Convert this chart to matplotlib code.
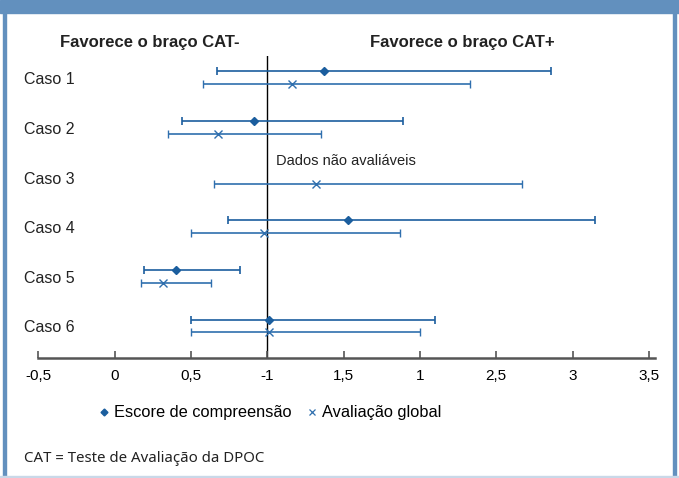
import numpy as np
import matplotlib.pyplot as plt
from matplotlib.patches import Rectangle
from matplotlib.lines import Line2D
from matplotlib.transforms import blended_transform_factory

# data
cases = ['Caso 1', 'Caso 2', 'Caso 3', 'Caso 4', 'Caso 5', 'Caso 6']
# Escore de compreensao (Caso 3 not evaluable)
score_mid = [1.37, 0.91, np.nan, 1.53, 0.40, 1.01]
score_lo = [0.67, 0.44, np.nan, 0.74, 0.19, 0.50]
score_hi = [2.86, 1.89, np.nan, 3.15, 0.82, 2.10]
# Avaliacao global
glob_mid = [1.16, 0.68, 1.32, 0.98, 0.32, 1.01]
glob_lo = [0.58, 0.35, 0.65, 0.50, 0.17, 0.50]
glob_hi = [2.33, 1.35, 2.67, 1.87, 0.63, 2.00]
tick_pos = [-0.5, 0, 0.5, 1, 1.5, 2, 2.5, 3, 3.5]
tick_labels = ['-0,5', '0', '0,5', '-1', '1,5', '1', '2,5', '3', '3,5']

BLUE = '#1b5e9e'
LBLUE = '#2f6fae'
FRAME = '#6290be'

plt.rcParams['font.family'] = ['Liberation Sans', 'DejaVu Sans']

fig = plt.figure(figsize=(6.79, 4.78), dpi=100)

# frame around the figure
fig.patches.append(Rectangle((0, 1 - 13 / 478), 1, 13 / 478, transform=fig.transFigure,
                             color=FRAME, zorder=0))
fig.patches.append(Rectangle((3 / 679, 0), 2.5 / 679, 1, transform=fig.transFigure,
                             color=FRAME, zorder=0))
fig.patches.append(Rectangle((673 / 679, 0), 2.5 / 679, 1, transform=fig.transFigure,
                             color=FRAME, zorder=0))
fig.patches.append(Rectangle((0, 0), 1, 2 / 478, transform=fig.transFigure,
                             color='#c9d8e8', zorder=0))

ax = fig.add_axes([38.3 / 679, 1 - 358 / 478, (655 - 38.3) / 679, (358 - 56) / 478])

y = np.arange(len(cases))
off = 0.13
sm = np.array(score_mid)
ok = ~np.isnan(sm)
ax.errorbar(sm[ok], y[ok] - off,
            xerr=[sm[ok] - np.array(score_lo)[ok], np.array(score_hi)[ok] - sm[ok]],
            fmt='D', color=BLUE, ms=4.5, elinewidth=1.2, capsize=3, capthick=1.2)
gm = np.array(glob_mid)
ax.errorbar(gm, y + off, xerr=[gm - np.array(glob_lo), np.array(glob_hi) - gm],
            fmt='x', color=LBLUE, ms=6, mew=1.0, elinewidth=1.2, capsize=3, capthick=1.2)

ax.axvline(1.0, color='black', lw=1, zorder=1)

ax.set_xlim(-0.5, 3.54)
ax.set_ylim(5.645, -0.44)
ax.set_xticks(tick_pos)
ax.set_xticklabels(tick_labels, fontsize=11)
ax.set_yticks([])
for s in ['top', 'right', 'left']:
    ax.spines[s].set_visible(False)
ax.spines['bottom'].set_color('#555555')
ax.spines['bottom'].set_linewidth(1.8)
ax.tick_params(axis='x', direction='in', length=5, width=1.2, color='#555555', pad=8)

trans = blended_transform_factory(fig.transFigure, ax.transData)
for i, c in enumerate(cases):
    ax.text(24 / 679, i + 0.04, c, transform=trans,
            fontsize=11.5, va='center', ha='left', color='#222222')

ax.text(1.054, 1.82, 'Dados não avaliáveis', fontsize=10.5, va='bottom', ha='left', color='#222222')

fig.text(150 / 679, 1 - 42 / 478, 'Favorece o braço CAT-', fontsize=12, fontweight='bold',
         ha='center', va='center', color='#222222')
fig.text(462 / 679, 1 - 42 / 478, 'Favorece o braço CAT+', fontsize=12, fontweight='bold',
         ha='center', va='center', color='#222222')

handles = [Line2D([], [], marker='D', ls='none', color=BLUE, ms=3.5),
           Line2D([], [], marker='x', ls='none', color=LBLUE, ms=4.5, mew=0.9)]
fig.legend(handles, ['Escore de compreensão', 'Avaliação global'], ncol=2, frameon=False,
           loc='center left', bbox_to_anchor=(84 / 679, 1 - 413 / 478), fontsize=11.8,
           handlelength=0.6, handletextpad=0.35, columnspacing=0.9)

fig.text(24 / 679, 1 - 459 / 478, 'CAT = Teste de Avaliação da DPOC', fontsize=10.8,
         family=['Noto Sans', 'DejaVu Sans'],
         ha='left', va='center', color='#222222')

plt.savefig('out.png', dpi=100)
